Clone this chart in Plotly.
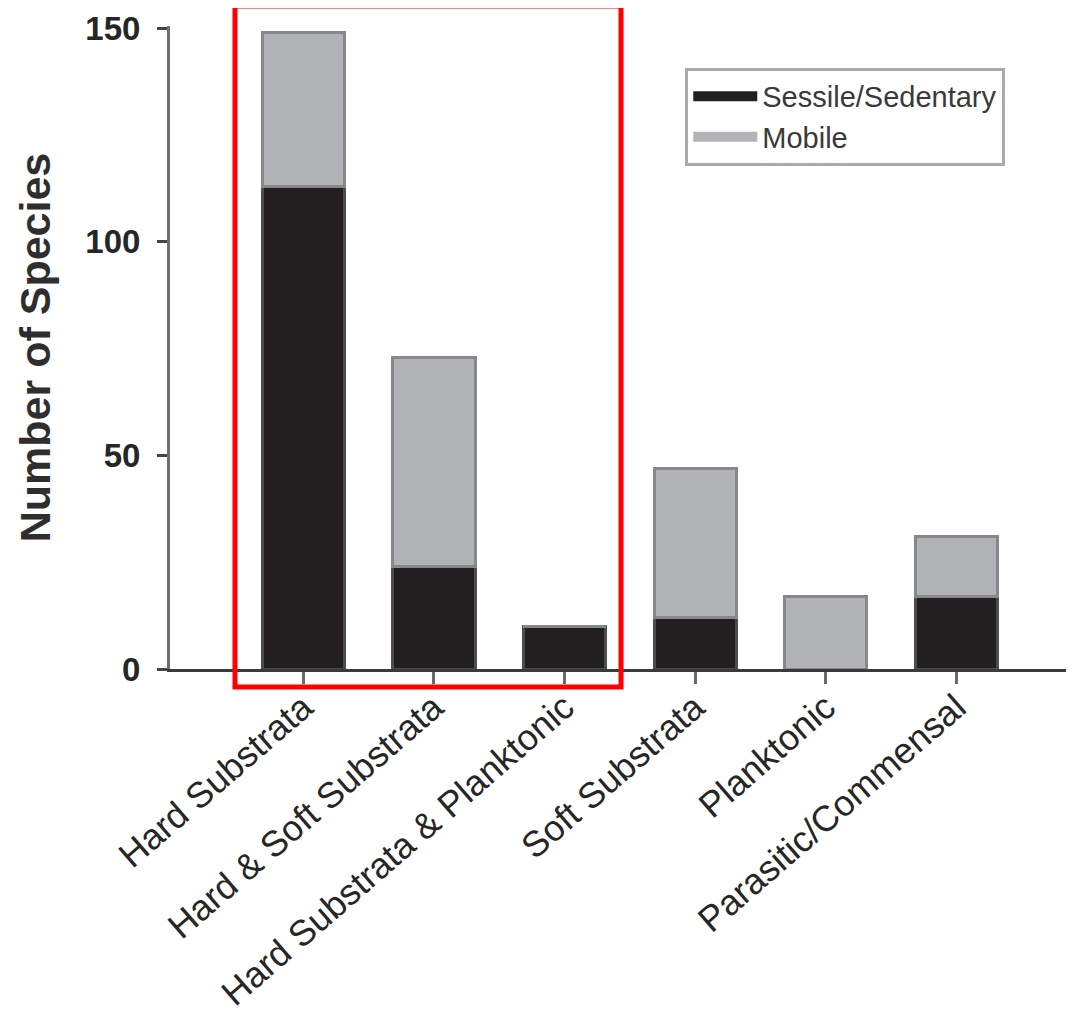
import plotly.graph_objects as go

categories = ["Hard Substrata", "Hard & Soft Substrata", "Hard Substrata & Planktonic",
              "Soft Substrata", "Planktonic", "Parasitic/Commensal"]
sessile = [113, 24, 10, 12, 0, 17]
mobile = [36, 49, 0, 35, 17, 14]
y_ticks = [0, 50, 100, 150]

FONT = "Arial, Liberation Sans, sans-serif"
BLACK_FILL = "#231f20"
BLACK_EDGE = "#4d4d4f"
GRAY_FILL = "#b2b3b6"
GRAY_EDGE = "#87888b"

fig = go.Figure()
fig.add_trace(go.Bar(x=categories, y=sessile, name="Sessile/Sedentary",
                     marker=dict(color=BLACK_FILL, line=dict(color=BLACK_EDGE, width=3)),
                     showlegend=False))
fig.add_trace(go.Bar(x=categories, y=mobile, name="Mobile",
                     marker=dict(color=GRAY_FILL, line=dict(color=GRAY_EDGE, width=3)),
                     showlegend=False))
# legend entries with wide swatches
fig.add_trace(go.Scatter(x=[None], y=[None], mode="lines", name="Sessile/Sedentary",
                         legendgroup="a", line=dict(color=BLACK_FILL, width=17)))
fig.add_trace(go.Scatter(x=[None], y=[None], mode="lines", name="Mobile",
                         legendgroup="b", line=dict(color=GRAY_FILL, width=17)))

fig.update_layout(
    width=1066, height=1013,
    margin=dict(l=162, r=0, t=18, b=352, autoexpand=False),
    barmode="stack", bargap=0.37,
    plot_bgcolor="white", paper_bgcolor="white",
    font=dict(family=FONT, color="#333333"),
    legend=dict(x=0.57, y=0.935, xanchor="left", yanchor="top",
                traceorder="normal", tracegroupgap=10,
                bordercolor="#ababab", borderwidth=3, bgcolor="white",
                font=dict(size=29, color="#3a3a3a"),
                itemwidth=64),
)
fig.update_xaxes(
    type="category", range=[-1.02, 5.9], automargin=False,
    showline=True, linecolor="#3a3a3a", linewidth=3,
    ticks="outside", ticklen=12, tickwidth=3, tickcolor="#6a6a6a",
    tickangle=-41, tickfont=dict(size=36, color="#262626", family=FONT),
    ticklabelstandoff=-12,
    showgrid=False, zeroline=False,
)
fig.update_yaxes(
    range=[0, 150.5], tickvals=y_ticks, ticktext=[str(v) for v in y_ticks],
    automargin=False,
    showline=True, linecolor="#707070", linewidth=3,
    ticks="outside", ticklen=10, tickwidth=3, tickcolor="#444444",
    tickfont=dict(size=33, color="#262626", family=FONT, weight="bold"),
    ticklabelstandoff=10,
    showgrid=False, zeroline=False,
    title=dict(text="Number of Species",
               font=dict(size=43, color="#2e2e2e", family=FONT, weight="bold"),
               standoff=22),
)

# red highlight box around first three categories
fig.add_shape(type="rect", xref="paper", yref="paper",
              x0=0.0719, x1=0.4989, y0=-0.028, y1=1.031,
              line=dict(color="#ff0000", width=5), fillcolor="rgba(0,0,0,0)", layer="above")

fig.write_html("out.html")
